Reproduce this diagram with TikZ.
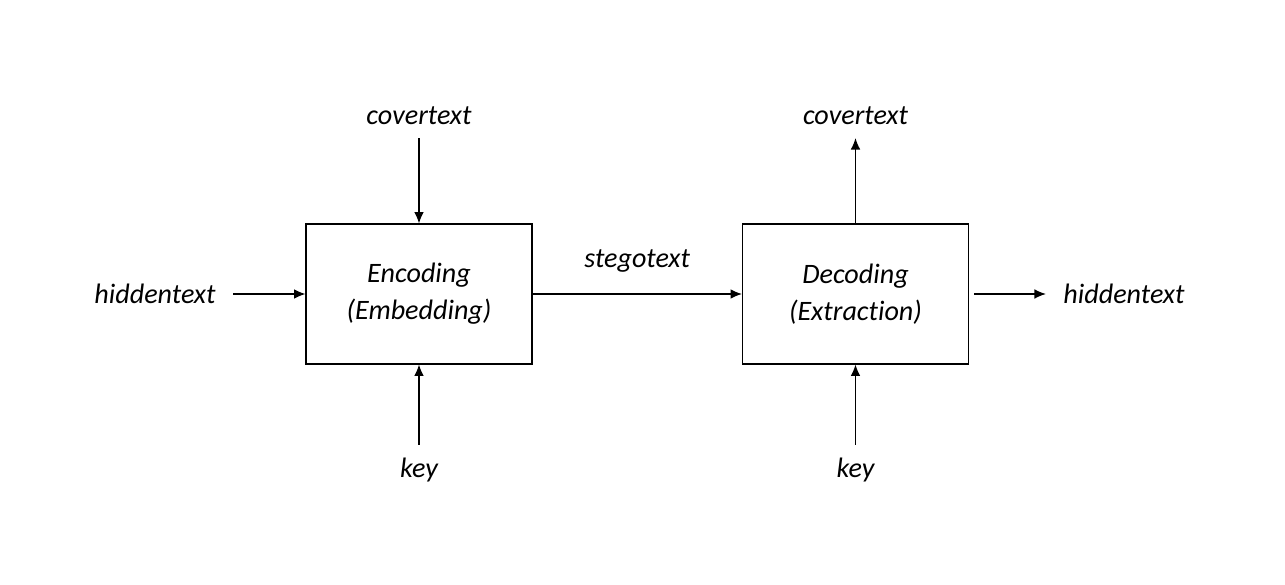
\documentclass[tikz,border=0pt]{standalone}
\usepackage{fontspec}
\setmainfont{Carlito}[Ligatures=NoCommon]
\usetikzlibrary{positioning,arrows.meta}

\begin{document}
\begin{tikzpicture}[>={Latex[length=6.5pt,width=5.5pt]},line width=0.7pt,on grid,auto,
    every node/.style={font=\fontsize{16}{21}\selectfont\itshape},
    block/.style={draw,line width=0.6pt,minimum width=4.52cm,minimum height=2.8cm,align=center},
    txt/.style={inner xsep=0.34cm,inner ysep=0.25cm}]
   \useasboundingbox (-8.38,-5.82) rectangle (17.32,5.88);
   \node[block] (enc) {Encoding\\(Embedding)};
   \node[block] (dec) [right=8.73cm of enc] {Decoding\\(Extraction)};
   \node[txt] (cov_in) [above=3.56cm of enc] {covertext};
   \node[txt] (key_in) [below=3.52cm of enc] {key};
   \node[txt] (hid_in) [left=5.28cm of enc] {hiddentext};
   \node[txt] (cov_out) [above=3.56cm of dec] {covertext};
   \node[txt] (key_out) [below=3.52cm of dec] {key};
   \node[txt] (hid_out) [right=5.37cm of dec] {hiddentext};
    \path[->]
    (cov_in) edge (enc)
    (key_in) edge (enc)
    (hid_in) edge (enc)
    (enc) edge node[inner ysep=0.42cm] {stegotext} (dec)
    (key_out) edge (dec)
    (dec) edge (cov_out)
    (dec) edge[shorten <=0.1cm] (hid_out);
\end{tikzpicture}
\end{document}
